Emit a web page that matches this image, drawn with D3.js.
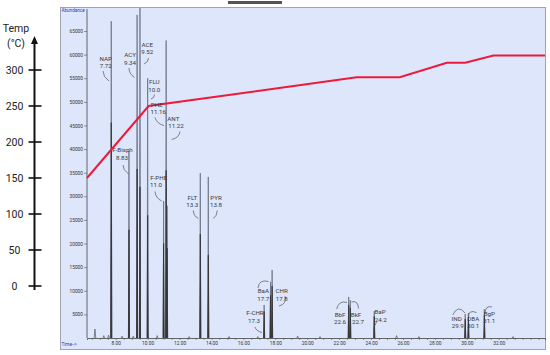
<!DOCTYPE html>
<html><head><meta charset="utf-8">
<script src="https://cdn.jsdelivr.net/npm/d3@7/dist/d3.min.js"></script>
<style>body{margin:0;background:#fff}svg{display:block}</style>
</head><body><svg id="c" width="550" height="355"></svg>
<script>
// ---- data ----
const peakNames   = ["NAP","F-Bisph","ACY","ACE","FLU","F-PHE","PHE","ANT","FLT","PYR","F-CHR","BaA","CHR","BbF","BkF","BaP","IND","DBA","BgP"];
const peakLabels  = ["7.72","8.83","9.34","9.52","10.0","11.0","11.16","11.22","13.3","13.8","17.3","17.7","17.8","22.6","22.7","24.2","29.9","30.1","31.1"];
const peakTimes   = [7.72, 8.83, 9.34, 9.52, 10.0, 11.0, 11.16, 11.22, 13.3, 13.8, 17.3, 17.7, 17.8, 22.6, 22.7, 24.2, 29.9, 30.1, 31.1];
const peakHeights = [67100, 39600, 68400, 70000, 55000, 29000, 63000, 28000, 34900, 34100, 7000, 11900, 14400, 8700, 8000, 5700, 5100, 5300, 6100];
const peakInner   = [45600, 22900, 35800, 32000, 26000, 20000, 35500, 19000, 22000, 17600, 5600, 9000, 11000, 7000, 6400, 4600, 4000, 4200, 4800];
const noiseTimes   = [6.7, 7.25, 7.55, 8.4, 9.1, 10.6, 12.6, 15.1, 16.9, 19.4, 20.8, 25.6, 27.0, 32.9];
const noiseHeights = [1900, 500, 600, 400, 400, 500, 300, 300, 300, 400, 300, 500, 300, 300];
const tempTimes  = [6.2, 10.06, 23.1, 25.8, 28.75, 29.9, 31.67, 34.9];
const tempValues = [150, 250, 290, 290, 310, 310, 320, 320];
const abundanceTicks = [5000,10000,15000,20000,25000,30000,35000,40000,45000,50000,55000,60000,65000];
const timeTicks = [8,10,12,14,16,18,20,22,24,26,28,30,32];
const tempTicks = [0,50,100,150,200,250,300];

// ---- label layout (pixels) ----
const labelLayout = {
  "NAP":    {x:105.7, y:60.5,  x2:105.7, c:[103,71,103,77,109,81]},
  "F-Bisph":{x:122.5, y:152,   x2:122,   c:[123,165,123,170,128.5,174]},
  "ACY":    {x:130,   y:57,    x2:130,   c:[129,68,129,74,134.5,77.5]},
  "ACE":    {x:147.3, y:46.5,  x2:147.3, c:[148.5,58,148.5,62,144,64]},
  "FLU":    {x:154.3, y:84,    x2:154.3, c:[154.5,94.5,154.5,98,151,99]},
  "F-PHE":  {x:158.7, y:179.5, x2:156,   c:[155,191.5,155.5,198,161.7,201]},
  "PHE":    {x:156.7, y:106.5, x2:158.3, c:[155,117.5,157,124,164,125.5]},
  "ANT":    {x:173.3, y:120.5, x2:176,   c:[180,131.5,179,138,171.7,139.5]},
  "FLT":    {x:192.3, y:199.5, x2:192.3, c:[193.3,210.5,193.5,216,198.3,218.5]},
  "PYR":    {x:216,   y:199.5, x2:216,   c:[217.3,210.5,217,216,213.3,218.5]},
  "F-CHR":  {x:255,   y:315,   x2:254,   c:[255,327,256,331,262,332.5]},
  "BaA":    {x:263.3, y:293,   x2:263.3, c:[258,288,259,279,268.5,281.5]},
  "CHR":    {x:281.7, y:293,   x2:281.7, c:[285,296,287,304,279,306]},
  "BbF":    {x:340,   y:316.5, x2:340,   c:[336.7,309,339,300,347,302.5]},
  "BkF":    {x:356,   y:316.5, x2:358,   c:[351.5,302,358,300,358.5,308.5]},
  "BaP":    {x:380,   y:314,   x2:380.7, c:[376.5,322,372.5,327,374.5,333]},
  "IND":    {x:456.7, y:320.5, x2:457.7, c:[452.7,315,458,304,465,313]},
  "DBA":    {x:473.3, y:320.5, x2:473.3, c:[468.5,318,468,309,476.5,312.5]},
  "BgP":    {x:489.3, y:315.5, x2:489.3, c:[485,313,485.5,305,492,307]}
};

const svg = d3.select("#c");
const x = d3.scaleLinear().domain([6.2, 34.9]).range([87, 545]);
const y = d3.scaleLinear().domain([0, 65000]).range([338, 31]);
const yT = d3.scaleLinear().domain([0, 300]).range([286, 70]);

// top bar
svg.append("rect").attr("x",228).attr("y",1).attr("width",54).attr("height",3).attr("fill","#555");
// panel
svg.append("rect").attr("x",60.5).attr("y",7.5).attr("width",485).attr("height",342)
  .attr("fill","#dde6fa").attr("stroke","#9ea4ac").attr("stroke-width",1);

svg.append("defs").append("clipPath").attr("id","clip")
  .append("rect").attr("x",87).attr("y",8).attr("width",458).attr("height",341);

// axes text
svg.append("text").attr("x",61.5).attr("y",12.3).attr("font-family","Roboto, sans-serif")
  .attr("font-size",4.6).attr("fill","#2a3ac0").text("Abundance");
svg.append("text").attr("x",61.5).attr("y",345.8).attr("font-family","Roboto, sans-serif")
  .attr("font-size",4.6).attr("fill","#2a3ac0").text("Time-->");

const yAx = svg.append("g").attr("transform","translate(87,0)")
  .call(d3.axisLeft(y).tickValues(abundanceTicks).tickSize(3).tickPadding(1).tickFormat(d3.format("d")));
yAx.select(".domain").remove();
yAx.selectAll("text").attr("font-size",4.8).attr("font-family","Roboto, sans-serif").attr("fill","#333");
yAx.selectAll("line").attr("stroke","#555").attr("stroke-width",0.6);
svg.append("line").attr("x1",87).attr("x2",87).attr("y1",9).attr("y2",338).attr("stroke","#444").attr("stroke-width",0.8);

const minor = d3.range(6.5, 34.6, 0.5);
const xAx = svg.append("g").attr("transform","translate(0,338)")
  .call(d3.axisBottom(x).tickValues(minor).tickSize(2).tickPadding(2)
    .tickFormat(d => timeTicks.includes(d) ? d.toFixed(2) : ""));
xAx.select(".domain").attr("stroke","#444").attr("stroke-width",0.8);
xAx.selectAll("line").attr("stroke","#555").attr("stroke-width",0.6);
xAx.selectAll("text").attr("font-size",4.8).attr("font-family","Roboto, sans-serif").attr("fill","#333");

// chromatogram
const g = svg.append("g").attr("clip-path","url(#clip)");
const tri = (t, h, w) => `M${x(t-w)},${y(0)}L${x(t)},${y(h)}L${x(t+w)},${y(0)}`;
g.selectAll("path.noise").data(noiseTimes).enter().append("path")
  .attr("d",(d,i)=>tri(d, noiseHeights[i], 0.05)).attr("fill","none").attr("stroke","#555").attr("stroke-width",0.7);
g.selectAll("path.pk").data(peakTimes).enter().append("path")
  .attr("d",(d,i)=>tri(d, peakHeights[i], 0.03)).attr("fill","#6c7488").attr("stroke","#6c7488").attr("stroke-width",0.8);
g.selectAll("path.pki").data(peakTimes).enter().append("path")
  .attr("d",(d,i)=>tri(d, peakInner[i], 0.035)).attr("fill","#333").attr("stroke","#333").attr("stroke-width",0.8);

// temperature program
const tempData = tempTimes.map((t,i)=>[t, tempValues[i]]);
svg.append("path").datum(tempData)
  .attr("d", d3.line().x(d=>x(d[0])).y(d=>yT(d[1])))
  .attr("fill","none").attr("stroke","#ee1a3c").attr("stroke-width",2);

// peak labels
peakNames.forEach((n,i)=>{
  const L = labelLayout[n];
  const t = svg.append("text").attr("font-family","Roboto, sans-serif").attr("font-size",6.2)
    .attr("fill","#3a3a3a").attr("text-anchor","middle");
  t.append("tspan").attr("x",L.x).attr("y",L.y).text(n);
  t.append("tspan").attr("x",L.x2).attr("y",L.y+7.8).text(peakLabels[i]);
  const c = L.c;
  svg.append("path").attr("d",`M${c[0]},${c[1]}Q${c[2]},${c[3]} ${c[4]},${c[5]}`)
    .attr("fill","none").attr("stroke","#3a3a3a").attr("stroke-width",0.6);
});

// Temp axis
const ta = svg.append("g");
ta.append("line").attr("x1",34.5).attr("x2",34.5).attr("y1",42).attr("y2",290).attr("stroke","#111").attr("stroke-width",2);
ta.append("path").attr("d","M34.5,36L31,44L38,44Z").attr("fill","#111");
ta.selectAll("line.tk").data(tempTicks).enter().append("line")
  .attr("x1",28.5).attr("x2",41.5).attr("y1",d=>yT(d)).attr("y2",d=>yT(d)).attr("stroke","#111").attr("stroke-width",1.6);
ta.selectAll("text.tl").data(tempTicks).enter().append("text")
  .attr("x",14.5).attr("y",d=>yT(d)+3.8).attr("text-anchor","middle")
  .attr("font-family","Roboto, sans-serif").attr("font-size",10.5).attr("fill","#222").text(d=>d);
ta.append("text").attr("x",16).attr("y",32).attr("text-anchor","middle")
  .attr("font-family","Roboto, sans-serif").attr("font-size",10.5).attr("fill","#222").text("Temp");
ta.append("text").attr("x",16).attr("y",47).attr("text-anchor","middle")
  .attr("font-family","Roboto, sans-serif").attr("font-size",10.5).attr("fill","#222").text("(°C)");
</script></body></html>
